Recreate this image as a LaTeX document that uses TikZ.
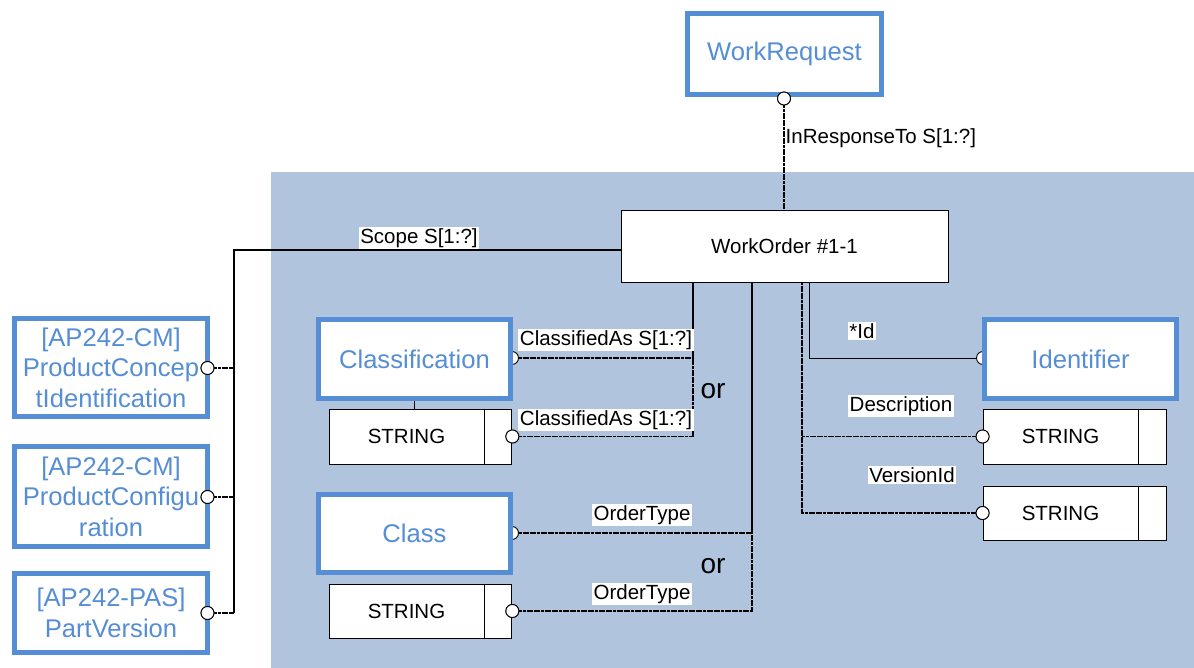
\documentclass[tikz,border=0pt]{standalone}
\usepackage{fontspec}
\setmainfont{Liberation Sans}
\definecolor{blueC}{RGB}{85,142,213}
\definecolor{bgC}{RGB}{176,196,222}
\begin{document}
\begin{tikzpicture}[x=1pt,y=-1pt,
  conn/.style={line width=1.4pt, dash pattern=on 3pt off 0.6pt},
  solidln/.style={line width=1.4pt},
  thinln/.style={line width=1pt},
  bluebox/.style={draw=blueC, line width=5pt, fill=white, text=blueC, font=\fontsize{25.6}{30.5}\selectfont, align=center, inner sep=0pt},
  strbox/.style={draw=black, line width=0.9pt, fill=white, font=\fontsize{20.5}{24}\selectfont, inner sep=0pt},
  lbl/.style={fill=white, inner sep=1.5pt, font=\fontsize{20.5}{24}\selectfont},
  ring/.style={circle, draw=black, line width=0.9pt, fill=white, minimum size=13pt, inner sep=0pt},
  ortxt/.style={font=\fontsize{28}{32}\selectfont}
]
\useasboundingbox (0,0) rectangle (1194,668);
\fill[bgC] (271,172) rectangle (1194,668);

% main node
\node[strbox, minimum width=327pt, minimum height=72pt] (wo) at (784.5,246) {WorkOrder \#1-1};

% junction coordinates on WorkOrder
\coordinate (wo-a) at (693,282);
\coordinate (wo-b) at (752,282);
\coordinate (wo-c) at (802,282);
\coordinate (wo-d) at (809,282);
\coordinate (scp) at (621,250);
\coordinate (bus) at (234,250);

% circles hidden behind blue boxes
\node[ring] (c-cl) at (512,358) {};
\node[ring] (c-class) at (512,533) {};
\node[ring] (c-id) at (983,358) {};

% blue boxes
\node[bluebox, minimum width=194pt, minimum height=81pt] (wr) at (784.5,54) {WorkRequest};
\node[bluebox, minimum width=192pt, minimum height=79pt] (cls) at (414.5,359) {Classification};
\node[bluebox, minimum width=192pt, minimum height=78pt] (class) at (414.5,533.5) {Class};
\node[bluebox, minimum width=192pt, minimum height=79pt] (ident) at (1080.5,359) {Identifier};
\node[bluebox, minimum width=193pt, minimum height=98pt] (pci) at (111,367.5) {[AP242-CM]\\ProductConcep\\tIdentification};
\node[bluebox, minimum width=193pt, minimum height=100pt] (pcf) at (111,496.5) {[AP242-CM]\\ProductConfigu\\ration};
\node[bluebox, minimum width=193pt, minimum height=79pt] (pv) at (111,613) {[AP242-PAS]\\PartVersion};

% STRING boxes
\node[strbox, minimum width=155pt, minimum height=55pt] (s1) at (406.5,436.5) {STRING};
\node[strbox, minimum width=27pt, minimum height=55pt, anchor=west] (s1b) at (s1.east) {};
\node[strbox, minimum width=155pt, minimum height=54pt] (s2) at (406.5,611) {STRING};
\node[strbox, minimum width=27pt, minimum height=54pt, anchor=west] (s2b) at (s2.east) {};
\node[strbox, minimum width=155pt, minimum height=55pt] (s3) at (1060.5,436.5) {STRING};
\node[strbox, minimum width=28pt, minimum height=55pt, anchor=west] (s3b) at (s3.east) {};
\node[strbox, minimum width=155pt, minimum height=54pt] (s4) at (1060.5,513) {STRING};
\node[strbox, minimum width=28pt, minimum height=54pt, anchor=west] (s4b) at (s4.east) {};

% visible circles (positions)
\node[ring] (c-wr) at (784,98.5) {};
\node[ring] (c-pci) at (207.5,368) {};
\node[ring] (c-pcf) at (207.5,497) {};
\node[ring] (c-pv) at (207.5,613) {};
\node[ring] (c-s1) at (s1b.east) {};
\node[ring] (c-s2) at (s2b.east) {};
\node[ring] (c-s3) at (s3.west) {};
\node[ring] (c-s4) at (s4.west) {};

% connectors
\draw[conn] (c-wr.south) -- (c-wr.south |- wo.north);
\draw[solidln] (scp) -- (bus) -- (bus |- c-pv);
\draw[conn] (c-pci.east) -- (c-pci.east -| bus);
\draw[conn] (c-pcf.east) -- (c-pcf.east -| bus);
\draw[conn] (c-pv.east) -- (c-pv.east -| bus);
\draw[conn] (c-cl.east) -| (wo-a);
\draw[conn] (c-s1.east) -| (wo-a);
\draw[conn] (c-class.east) -| (wo-b);
\draw[conn] (c-s2.east) -| (wo-b);
\draw[thinln] (wo-d) |- (c-id.west);
\draw[conn] (wo-c) |- (c-s3.west);
\draw[conn] (wo-c) |- (c-s4.west);
\draw[thinln] (cls.south) -- (cls.south |- s1.north);

% redraw circles over line ends
\node[ring] at (c-wr) {};
\node[ring] at (c-pci) {};
\node[ring] at (c-pcf) {};
\node[ring] at (c-pv) {};
\node[ring] at (c-s1) {};
\node[ring] at (c-s2) {};
\node[ring] at (c-s3) {};
\node[ring] at (c-s4) {};

% labels
\node[lbl, fill=none, anchor=west] (l-irt) at (784,138) {InResponseTo S[1:?]};
\node[lbl] (l-scope) at (419,238) {Scope S[1:?]};
\node[lbl] (l-ca1) at (606,340) {ClassifiedAs S[1:?]};
\node[lbl] (l-ca2) at (606,420) {ClassifiedAs S[1:?]};
\node[lbl] (l-ot1) at (642,515) {OrderType};
\node[lbl] (l-ot2) at (642,594) {OrderType};
\node[lbl] (l-id) at (862,331) {*Id};
\node[lbl] (l-desc) at (901,406) {Description};
\node[lbl] (l-ver) at (912,475) {VersionId};
\node[ortxt] (or1) at (713,391) {or};
\node[ortxt] (or2) at (713,566) {or};
\end{tikzpicture}
\end{document}
